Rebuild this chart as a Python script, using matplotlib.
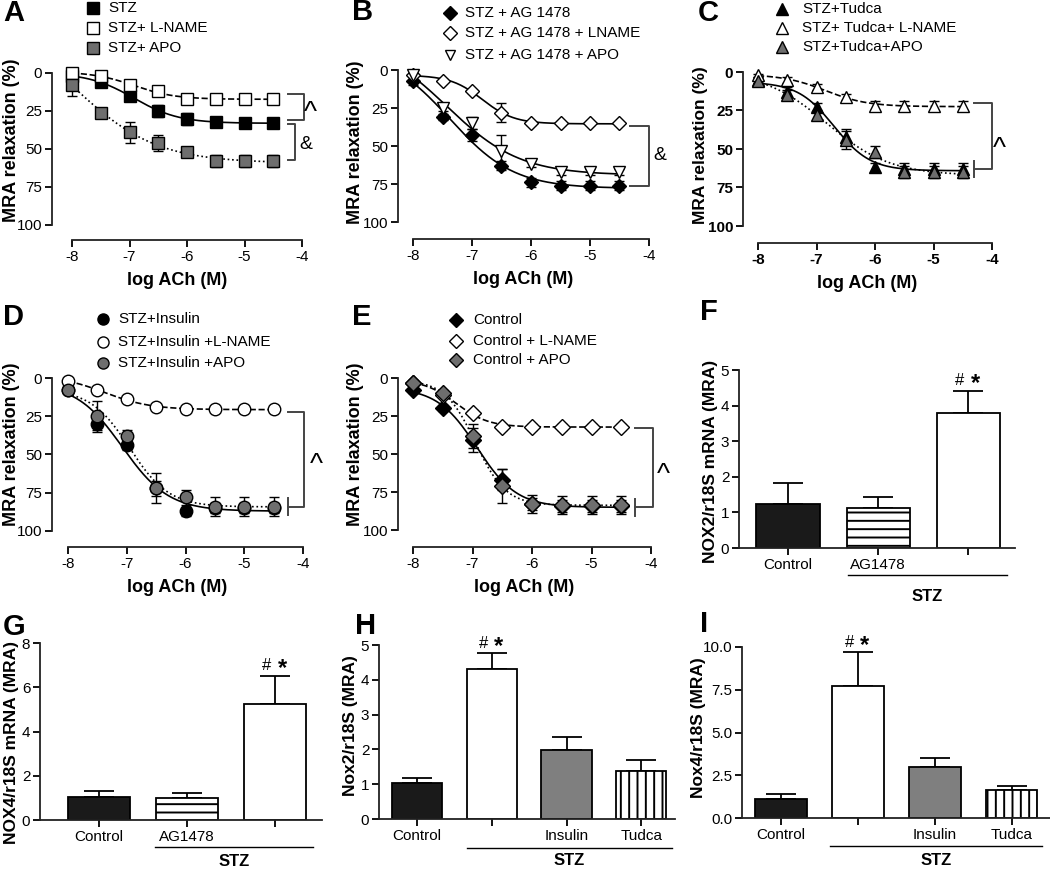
import numpy as np
import matplotlib
matplotlib.use('Agg')
import matplotlib.pyplot as plt
from matplotlib.lines import Line2D
from matplotlib.ticker import FormatStrFormatter

plt.rcParams['font.family'] = ['Liberation Sans', 'DejaVu Sans']
plt.rcParams['axes.unicode_minus'] = False
plt.rcParams['hatch.linewidth'] = 1.4

W, H = 1050, 871
GRAY = '#6e6e6e'

# concentration points (log M)
log_ach = [-8, -7.5, -7, -6.5, -6, -5.5, -5, -4.5]

# A
a_stz = [2, 6, 15, 25, 30, 32, 33, 33]
a_stz_err = [2, 2, 3, 4, 4, 3, 3, 3]
a_lname = [0, 2, 8, 12, 17, 17, 17, 17]
a_lname_err = [1, 1, 2, 2, 2, 2, 2, 2]
a_apo = [8, 26, 39, 46, 52, 58, 58, 58]
a_apo_err = [7, 2, 7, 5, 2, 4, 4, 4]

# B
b_ag = [7, 31, 43, 63, 74, 76, 76, 76]
b_ag_err = [3, 2, 4, 3, 3, 3, 3, 3]
b_lname = [3, 7, 14, 28, 35, 35, 35, 35]
b_lname_err = [1, 1, 1, 6.5, 1, 1, 1, 1]
b_apo = [3, 25, 35, 53, 62, 67, 67, 67]
b_apo_err = [1, 2, 4, 10, 2, 2, 2, 2]

# C
c_tudca = [5, 13, 23, 42, 62, 63, 63, 63]
c_tudca_err = [2, 3, 3, 5, 3, 4, 4, 4]
c_lname = [2, 5, 10, 16, 22, 22, 22, 22]
c_lname_err = [1, 2, 2, 2, 3, 3, 3, 3]
c_apo = [6, 15, 28, 44, 52, 65, 65, 65]
c_apo_err = [2, 3, 3, 6, 4, 4, 4, 4]

# D
d_ins = [8, 30, 44, 72, 87, 85, 85, 85]
d_ins_err = [2, 4, 3, 5, 3, 3, 3, 3]
d_lname = [2, 8, 14, 19, 20, 20.5, 20.5, 20.5]
d_lname_err = [1, 1, 1, 1, 1, 1, 1, 1]
d_apo = [8, 25, 38, 72, 78, 84, 84, 84]
d_apo_err = [2, 10, 4, 10, 5, 6.5, 6.5, 6.5]

# E
e_ctrl = [8, 20, 41, 67, 83, 84, 84, 84]
e_ctrl_err = [2, 2, 8, 7, 4, 4, 4, 4]
e_lname = [3, 11, 23, 32, 32, 32, 32, 32]
e_lname_err = [1, 1, 2, 2, 2, 2, 2, 2]
e_apo = [3, 10, 38, 71, 83, 83.5, 83.5, 83.5]
e_apo_err = [2, 2, 8, 11, 6, 6, 6, 6]

# bar panels
f_labels = ['Control', 'AG1478', '']
f_values = [1.24, 1.11, 3.78]
f_err = [0.59, 0.33, 0.63]

g_labels = ['Control', 'AG1478', '']
g_values = [1.05, 0.98, 5.23]
g_err = [0.28, 0.26, 1.28]

h_labels = ['Control', '', 'Insulin', 'Tudca']
h_values = [1.04, 4.32, 1.97, 1.38]
h_err = [0.15, 0.44, 0.38, 0.32]

i_labels = ['Control', '', 'Insulin', 'Tudca']
i_values = [1.1, 7.7, 3.0, 1.62]
i_err = [0.28, 1.98, 0.5, 0.26]

fig = plt.figure(figsize=(W / 100, H / 100), dpi=100)


def fy(y):
    return 1 - y / H


def fit_curve(vals):
    # simple sigmoid fit (grid over logEC50 / slope, linear lstsq for bottom/top)
    x = np.array(log_ach, dtype=float)
    y = np.array(vals, dtype=float)
    best = None
    for ec in np.linspace(-8, -5, 121):
        for h in np.linspace(0.5, 2.0, 16):
            s = 1 / (1 + 10 ** ((ec - x) * h))
            A = np.column_stack([np.ones_like(x), s])
            coef = np.linalg.lstsq(A, y, rcond=None)[0]
            sse = ((A @ coef - y) ** 2).sum()
            if best is None or sse < best[0]:
                best = (sse, ec, h, coef)
    _, ec, h, coef = best
    xf = np.linspace(-8, -4.5, 200)
    return xf, coef[0] + coef[1] / (1 + 10 ** ((ec - xf) * h))


def line_panel(yax_x, x8, x4, y0, y100, xax_y, series, bold=False):
    ppx = (x4 - x8) / 4
    ppy = (y100 - y0) / 100
    ax = fig.add_axes([yax_x / W, fy(xax_y), (x4 - yax_x) / W, (xax_y - y0) / H])
    ax.set_xlim(-8 - (x8 - yax_x) / ppx, -4)
    ax.set_ylim(100 + (xax_y - y100) / ppy, 0)
    for s in ['top', 'right']:
        ax.spines[s].set_visible(False)
    ax.spines['left'].set_bounds(0, 100)
    ax.spines['bottom'].set_bounds(-8, -4)
    for s in ['left', 'bottom']:
        ax.spines[s].set_linewidth(1.3)
        ax.spines[s].set_color('#222222')
    ax.set_xticks([-8, -7, -6, -5, -4])
    ax.set_yticks([0, 25, 50, 75, 100])
    ax.tick_params(length=5, width=1.3, labelsize=11, pad=2)
    if bold:
        for t in ax.get_xticklabels() + ax.get_yticklabels():
            t.set_fontweight('bold')
    ax.set_xlabel('log ACh (M)', fontsize=13, fontweight='bold', labelpad=6)
    for vals, err, marker, face, ls, ms in series:
        xf, yf = fit_curve(vals)
        ax.plot(xf, yf, linestyle=ls, color='black', lw=1.2, zorder=2, clip_on=False)
        ax.errorbar(log_ach, vals, yerr=err, fmt='none', ecolor='black', elinewidth=1,
                    capsize=3.5, capthick=1, zorder=3, clip_on=False)
        ax.plot(log_ach, vals, linestyle='none', marker=marker, mfc=face, mec='black',
                mew=1, ms=ms, zorder=4, clip_on=False)
    return ax


def bracket(ax, x0, x1, ya, yb, sym, tx, ty, tick=False):
    ax.plot([x0, x1, x1, x0], [ya, ya, yb, yb], color='#444444', lw=1.4, clip_on=False)
    if tick:
        ax.plot([x0, x0], [yb - 5.5, yb + 5.5], color='#444444', lw=1.4, clip_on=False)
    if sym == '^':
        ax.text(tx, ty, '^', fontsize=20, ha='center', va='center', clip_on=False)
    else:
        ax.text(tx, ty, sym, fontsize=14, ha='center', va='center', clip_on=False)


def legend(entries, mx, tx, ys, ms):
    for (label, marker, face), y in zip(entries, ys):
        fig.add_artist(Line2D([mx / W], [fy(y)], marker=marker, mfc=face, mec='black',
                              mew=1, ms=ms, ls='none', transform=fig.transFigure))
        fig.text(tx / W, fy(y), label, fontsize=11, va='center')


def bar_panel(l, r, top, bottom, ymax, yticks, xlim, labels, vals, err, faces, hatches,
              width, line_x, line_y, stz_y, star_i):
    ax = fig.add_axes([l / W, fy(bottom), (r - l) / W, (bottom - top) / H])
    ax.set_xlim(*xlim)
    ax.set_ylim(0, ymax)
    x = np.arange(len(vals))
    ax.bar(x, vals, width, color=faces, edgecolor='black', lw=1.3, hatch=hatches, zorder=2)
    ax.errorbar(x, vals, yerr=[np.zeros(len(vals)), err], fmt='none', ecolor='black',
                elinewidth=1.3, capsize=11, capthick=1.3, zorder=1)
    for s in ['top', 'right']:
        ax.spines[s].set_visible(False)
    ax.spines['left'].set_bounds(0, ymax)
    for s in ['left', 'bottom']:
        ax.spines[s].set_linewidth(1.3)
        ax.spines[s].set_color('#222222')
    ax.set_yticks(yticks)
    ax.set_xticks(x)
    ax.set_xticklabels(labels)
    ax.tick_params(length=5, width=1.3, labelsize=11, pad=2)
    ax.plot(line_x, [line_y, line_y], color='black', lw=1, transform=ax.get_xaxis_transform(),
            clip_on=False)
    ax.text(np.mean(line_x), stz_y, 'STZ', fontsize=12, fontweight='bold', ha='center',
            va='center', transform=ax.get_xaxis_transform())
    top_v = vals[star_i] + err[star_i]
    ax.annotate('#', xy=(star_i, top_v), xytext=(-6, 2), textcoords='offset points',
                ha='center', va='bottom', fontsize=12)
    ax.annotate('*', xy=(star_i, top_v), xytext=(5, -3), textcoords='offset points',
                ha='center', va='bottom', fontsize=17, fontweight='bold')
    return ax


# ---- A
ax = line_panel(52, 72, 302, 73, 225, 240, [
    (a_stz, a_stz_err, 's', 'black', '-', 9),
    (a_lname, a_lname_err, 's', 'white', '--', 9),
    (a_apo, a_apo_err, 's', GRAY, ':', 9)])
bracket(ax, -4.24, -3.97, 14, 31, '^', -3.86, 26)
bracket(ax, -4.24, -4.12, 33.5, 57.5, '&', -3.93, 47)
legend([('STZ', 's', 'black'), ('STZ+ L-NAME', 's', 'white'), ('STZ+ APO', 's', GRAY)],
       93, 108, [8, 28, 48], 8)

# ---- B
ax = line_panel(398, 413, 649, 70, 222, 239, [
    (b_ag, b_ag_err, 'D', 'black', '-', 7),
    (b_lname, b_lname_err, 'D', 'white', '-', 7),
    (b_apo, b_apo_err, 'v', 'white', '-', 9)])
bracket(ax, -4.32, -4.0, 37, 76, '&', -3.81, 56)
legend([('STZ + AG 1478', 'D', 'black'), ('STZ + AG 1478 + LNAME', 'D', 'white'),
        ('STZ + AG 1478 + APO', 'v', 'white')], 450, 465, [13, 33, 55], 7)

# ---- C
ax = line_panel(743, 758, 992, 72, 226, 243, [
    (c_tudca, c_tudca_err, '^', 'black', '-', 9),
    (c_lname, c_lname_err, '^', 'white', '--', 9),
    (c_apo, c_apo_err, '^', GRAY, ':', 9)], bold=True)
bracket(ax, -4.3, -4.0, 20, 63, '^', -3.87, 50, tick=True)
legend([('STZ+Tudca', '^', 'black'), ('STZ+ Tudca+ L-NAME', '^', 'white'),
        ('STZ+Tudca+APO', '^', GRAY)], 782, 802, [9, 28, 47], 8)

# ---- D
ax = line_panel(52, 68, 303, 378, 531, 547, [
    (d_ins, d_ins_err, 'o', 'black', '-', 9),
    (d_lname, d_lname_err, 'o', 'white', '--', 9),
    (d_apo, d_apo_err, 'o', GRAY, ':', 9)])
bracket(ax, -4.26, -3.98, 22, 84, '^', -3.78, 57, tick=True)
legend([('STZ+Insulin', 'o', 'black'), ('STZ+Insulin +L-NAME', 'o', 'white'),
        ('STZ+Insulin +APO', 'o', GRAY)], 103, 118, [319, 342, 363], 8)

# ---- E
ax = line_panel(398, 413, 651, 378, 530, 547, [
    (e_ctrl, e_ctrl_err, 'D', 'black', '-', 8),
    (e_lname, e_lname_err, 'D', 'white', '--', 8),
    (e_apo, e_apo_err, 'D', GRAY, ':', 8)])
bracket(ax, -4.27, -3.97, 33, 85, '^', -3.8, 64, tick=True)
legend([('Control', 'D', 'black'), ('Control + L-NAME', 'D', 'white'),
        ('Control + APO', 'D', GRAY)], 456, 473, [320, 341, 360], 7)

# ---- F
bar_panel(739, 1015, 370, 548, 5, [0, 1, 2, 3, 4, 5], (-0.544, 2.52), f_labels, f_values, f_err,
          ['#1a1a1a', 'white', 'white'], [None, '--', None], 0.7,
          [0.667, 2.43], -0.152, -0.27, 2)

# ---- G
bar_panel(40, 322, 643, 820, 8, [0, 2, 4, 6, 8], (-0.67, 2.53), g_labels, g_values, g_err,
          ['#1a1a1a', 'white', 'white'], [None, '--', None], 0.7,
          [0.64, 2.43], -0.153, -0.235, 2)

# ---- H
bar_panel(379, 675, 645, 819, 5, [0, 1, 2, 3, 4, 5], (-0.507, 3.45), h_labels, h_values, h_err,
          ['#1a1a1a', 'white', '#7f7f7f', 'white'], [None, None, None, '||'], 0.67,
          [0.667, 3.41], -0.167, -0.24, 1)

# ---- I
ax = bar_panel(742, 1050, 647, 818, 10, [0, 2.5, 5, 7.5, 10], (-0.51, 3.5), i_labels, i_values,
               i_err, ['#1a1a1a', 'white', '#7f7f7f', 'white'], [None, None, None, '||'], 0.67,
               [0.64, 3.4], -0.164, -0.25, 1)
ax.yaxis.set_major_formatter(FormatStrFormatter('%.1f'))

# y labels
for x, y, txt, fs in [(12, 140, 'MRA relaxation (%)', 13), (356, 142, 'MRA relaxation (%)', 13),
                      (700, 145, 'MRA relaxation (%)', 12.5), (12, 444, 'MRA relaxation (%)', 13),
                      (356, 444, 'MRA relaxation (%)', 13),
                      (711, 461, 'NOX2/r18S mRNA (MRA)', 12.5),
                      (12, 742, 'NOX4/r18S mRNA (MRA)', 12.5), (351, 726, 'Nox2/r18S (MRA)', 12.5),
                      (699, 728, 'Nox4/r18S (MRA)', 12.5)]:
    fig.text(x / W, fy(y), txt, rotation=90, fontsize=fs, fontweight='bold',
             ha='center', va='center')

# panel letters
for x, y, s in [(3, 13, 'A'), (352, 12, 'B'), (698, 13, 'C'), (3, 317, 'D'), (352, 317, 'E'),
                (700, 312, 'F'), (3, 627, 'G'), (355, 626, 'H'), (700, 624, 'I')]:
    fig.text(x / W, fy(y), s, fontsize=21, fontweight='bold', ha='left', va='center')

fig.savefig('out.png', dpi=100)
